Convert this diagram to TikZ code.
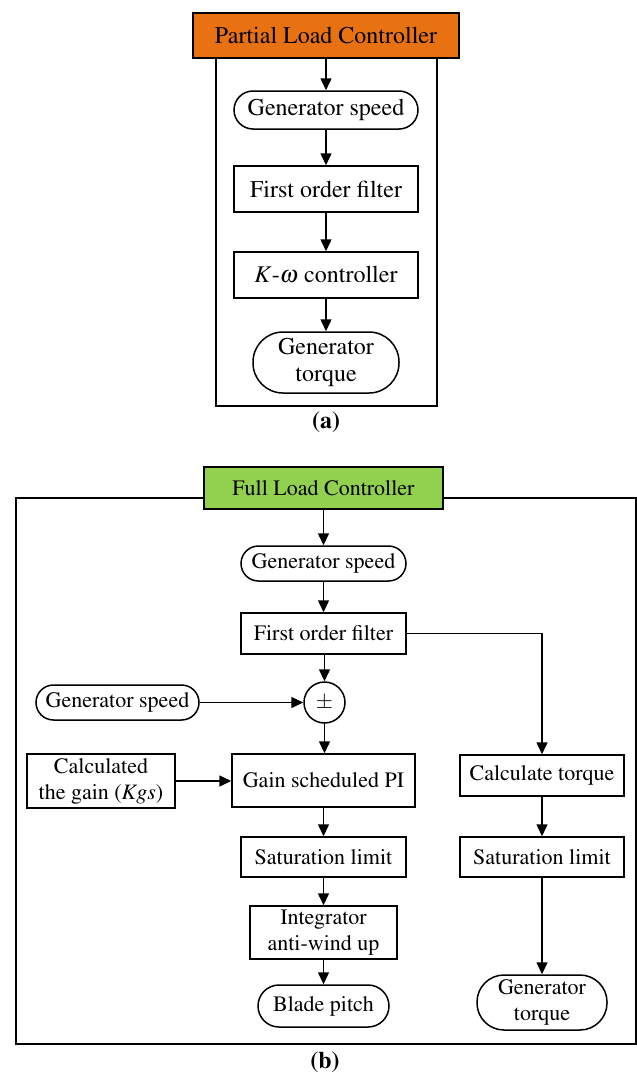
\documentclass[tikz,border=0pt]{standalone}
\usepackage[T1]{fontenc}
\usepackage{mathptmx}
\usetikzlibrary{arrows.meta}

\definecolor{plcorange}{RGB}{232,114,18}
\definecolor{flcgreen}{RGB}{146,208,80}

\begin{document}
\begin{tikzpicture}[x=1pt,y=-1pt,
  font=\fontsize{22}{26}\selectfont,
  blk/.style={draw,line width=1.5pt,fill=white,inner sep=0pt,align=center},
  term/.style={blk,rounded corners=#1},
  big/.style={font=\fontsize{24}{27}\selectfont},
  frm/.style={draw,line width=1.5pt},
  lnk/.style={-{Triangle[length=12pt,width=11pt]},line width=1.5pt}]
  \useasboundingbox (0,0) rectangle (637,1076);

  \draw[frm] (216,58) rectangle (437,406);
  \node[blk,big,fill=plcorange,minimum width=266pt,minimum height=45pt] (plc) at (326,35.5) {Partial Load Controller};
  \node[term=19pt,big,minimum width=184pt,minimum height=38pt] (gsa) at (326,110) {Generator speed};
  \node[blk,big,minimum width=184pt,minimum height=46pt] (fofa) at (326,189) {First order filter};
  \node[blk,big,minimum width=184pt,minimum height=46pt] (kw) at (326,275) {$K$-$\omega$ controller};
  \node[term=30pt,big,minimum width=146pt,minimum height=61pt] (gta) at (326,362.5) {Generator\\torque};
  \node[font=\fontsize{24}{27}\selectfont\bfseries] (laba) at (326,422) {(a)};

  \draw[lnk] (plc) -- (gsa);
  \draw[lnk] (gsa) -- (fofa);
  \draw[lnk] (fofa) -- (kw);
  \draw[lnk] (kw) -- (gta);

  \draw[frm] (16,498) rectangle (636,1044);
  \node[blk,fill=flcgreen,minimum width=239pt,minimum height=42pt] (flc) at (323.5,488) {Full Load Controller};
  \node[term=17.5pt,minimum width=165pt,minimum height=35pt] (gsb) at (323.5,563.5) {Generator speed};
  \node[blk,minimum width=165pt,minimum height=41pt] (fofb) at (323.5,633.5) {First order filter};
  \node[blk,circle,minimum size=41pt] (pm) at (324.5,702.5) {$\pm$};
  \node[term=17.5pt,minimum width=163pt,minimum height=35pt] (gsl) at (117.5,702.5) {Generator speed};
  \node[blk,minimum width=183pt,minimum height=53pt] (gpi) at (323.5,780.5) {Gain scheduled PI};
  \node[blk,minimum width=148pt,minimum height=54pt] (kgs) at (101,781) {Calculated\\the gain (\textit{Kgs})};
  \node[blk,minimum width=165pt,minimum height=40pt] (sata) at (323.5,857) {Saturation limit};
  \node[blk,minimum width=147pt,minimum height=53pt] (iaw) at (323.5,932.5) {Integrator\\anti-wind up};
  \node[term=21pt,minimum width=131pt,minimum height=42pt] (bp) at (323.5,1006) {Blade pitch};
  \node[blk,minimum width=164pt,minimum height=41pt] (ct) at (542,775.5) {Calculate torque};
  \node[blk,minimum width=164pt,minimum height=40pt] (satb) at (542,857) {Saturation limit};
  \node[term=27pt,minimum width=130pt,minimum height=55pt] (gtb) at (542,1002.5) {Generator\\torque};
  \node[font=\fontsize{24}{27}\selectfont\bfseries] (labb) at (325,1062) {(b)};

  \draw[lnk] (flc) -- (gsb);
  \draw[lnk] (gsb) -- (fofb);
  \draw[lnk] (fofb.south -| pm) -- (pm);
  \draw[lnk] (gsl) -- (pm);
  \draw[lnk] (pm) -- (pm |- gpi.north);
  \draw[lnk] (kgs) -- (kgs -| gpi.west);
  \draw[lnk] (gpi) -- (sata);
  \draw[lnk] (sata) -- (iaw);
  \draw[lnk] (iaw) -- (bp);
  \draw[lnk] (fofb.east) -| (ct.north);
  \draw[lnk] (ct) -- (satb);
  \draw[lnk] (satb) -- (gtb);
\end{tikzpicture}
\end{document}
